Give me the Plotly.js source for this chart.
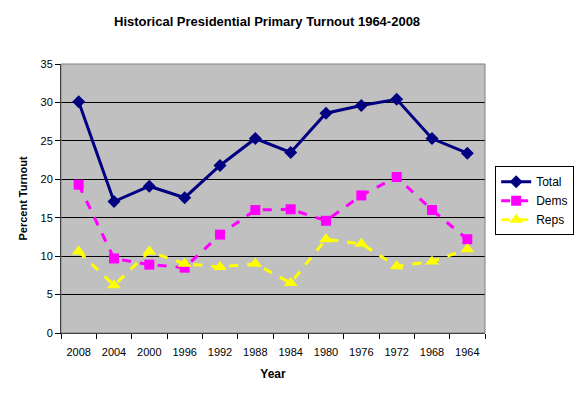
<!DOCTYPE html>
<html>
<head>
<meta charset="utf-8">
<script src="https://cdn.plot.ly/plotly-3.0.1.min.js"></script>
<style>html,body{margin:0;padding:0;background:#fff;}#chart{width:583px;height:398px;}</style>
</head>
<body>
<div id="chart"></div>
<script>
const years = ["2008","2004","2000","1996","1992","1988","1984","1980","1976","1972","1968","1964"];
const total = [30.1, 17.1, 19.1, 17.6, 21.8, 25.3, 23.5, 28.6, 29.6, 30.4, 25.3, 23.4];
const dems  = [19.3, 9.7, 8.9, 8.5, 12.8, 16.0, 16.1, 14.6, 17.9, 20.3, 16.0, 12.2];
const reps  = [10.6, 6.2, 10.6, 9.0, 8.6, 9.0, 6.5, 12.2, 11.6, 8.7, 9.3, 10.9];

const traces = [
  {x: years, y: total, name: "Total", type: "scatter", mode: "lines+markers",
   line: {color: "#000080", width: 3}, marker: {symbol: "diamond", size: 10, color: "#000080"}},
  {x: years, y: dems, name: "Dems", type: "scatter", mode: "lines+markers",
   line: {color: "#FF00FF", width: 3, dash: "dash"}, marker: {symbol: "square", size: 10, color: "#FF00FF"}},
  {x: years, y: reps, name: "Reps", type: "scatter", mode: "lines+markers",
   line: {color: "#FFFF00", width: 3, dash: "dash"}, marker: {symbol: "triangle-up", size: 12, color: "#FFFF00"}}
];

const layout = {
  width: 583, height: 398,
  margin: {l: 61, r: 98, t: 64, b: 65, autoexpand: false},
  paper_bgcolor: "#FFFFFF",
  plot_bgcolor: "#C0C0C0",
  font: {family: "Liberation Sans, Arial, sans-serif", size: 12, color: "#000"},
  title: {text: "<b>Historical Presidential Primary Turnout 1964-2008</b>", xref: "paper", x: 0.486, xanchor: "center", yref: "container", y: 0.945, yanchor: "middle", font: {size: 13}},
  xaxis: {
    type: "category", range: [-0.5, 11.5], tickson: "boundaries", ticks: "outside", ticklen: 5, tickcolor: "#000",
    showline: true, linecolor: "#000", linewidth: 1, showgrid: false, zeroline: false,
    title: {text: "<b>Year</b>", font: {size: 12}, standoff: 12},
    tickfont: {size: 11}, tickangle: 0, automargin: false, ticklabelstandoff: 9
  },
  yaxis: {
    range: [0, 35], dtick: 5, ticks: "outside", ticklen: 5, tickcolor: "#000",
    showline: true, linecolor: "#000", linewidth: 1, showgrid: true, gridcolor: "#000", gridwidth: 1,
    zeroline: false, title: {text: "<b>Percent Turnout</b>", font: {size: 11}, standoff: 10},
    tickfont: {size: 11}, automargin: false
  },
  shapes: [
    {type: "rect", xref: "paper", yref: "paper", x0: 0, x1: 1, y0: 0, y1: 1, line: {color: "#808080", width: 1}, fillcolor: "rgba(0,0,0,0)"}
  ],
  legend: {
    x: 1.024, y: 0.62, xanchor: "left", yanchor: "top",
    bordercolor: "#000", borderwidth: 1, bgcolor: "#FFFFFF",
    font: {size: 12}, tracegroupgap: 0, itemwidth: 30
  },
  showlegend: true
};

Plotly.newPlot("chart", traces, layout, {displayModeBar: false, staticPlot: true});
</script>
</body>
</html>
